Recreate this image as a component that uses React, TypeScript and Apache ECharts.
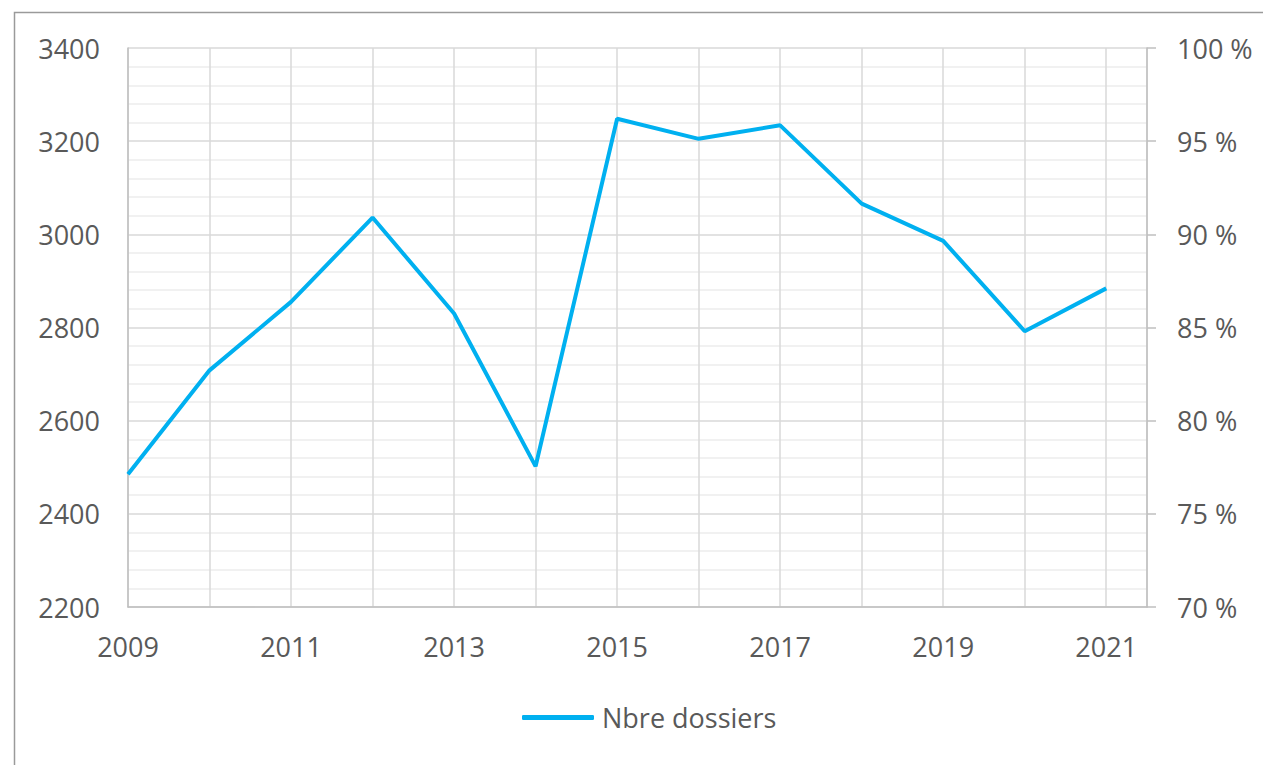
import React, { useEffect, useRef } from "react";
import * as echarts from "echarts";

const years = [2009, 2010, 2011, 2012, 2013, 2014, 2015, 2016, 2017, 2018, 2019, 2020, 2021];
const dossiers = [2485, 2708, 2855, 3036, 2830, 2502, 3248, 3205, 3234, 3066, 2986, 2792, 2884];
const seriesName = "Nbre dossiers";
const leftMin = 2200;
const leftMax = 3400;
const leftStep = 200;
const rightMin = 70;
const rightMax = 100;
const rightStep = 5;

const FONT = "'Open Sans', sans-serif";
const TXT = "#595959";
const FS = 27;

export default function App() {
  const ref = useRef<HTMLDivElement>(null);
  useEffect(() => {
    document.body.style.margin = "0";
    const chart = echarts.init(ref.current!, null, { renderer: "svg" });
    chart.setOption({
      animation: false,
      backgroundColor: "#ffffff",
      grid: { left: 128, top: 48, right: 116, bottom: 158, containLabel: false },
      graphic: [
        {
          type: "rect",
          left: 12,
          top: 10,
          shape: { x: 0, y: 0, width: 1270, height: 800 },
          style: { fill: "none", stroke: "#9a9a9a", lineWidth: 1.5 },
          silent: true,
        },
      ],
      legend: {
        left: 522,
        top: 704,
        padding: 0,
        icon: "roundRect",
        itemWidth: 72,
        itemHeight: 5,
        itemGap: 10,
        textStyle: { fontFamily: FONT, fontSize: FS, color: TXT, padding: [0, 0, 0, 3] },
        data: [seriesName],
      },
      xAxis: {
        type: "value",
        min: years[0],
        max: years[years.length - 1] + 0.5,
        interval: 1,
        axisLine: { show: true, lineStyle: { color: "#bfbfbf", width: 1.5 } },
        axisTick: { show: false },
        axisLabel: {
          margin: 26,
          fontFamily: FONT,
          fontSize: FS,
          color: TXT,
          showMaxLabel: false,
          formatter: (v: number) => (Number.isInteger(v) && v % 2 === 1 ? String(v) : ""),
        },
        splitLine: { show: true, lineStyle: { color: "#d9d9d9", width: 1.5 } },
      },
      yAxis: [
        {
          type: "value",
          min: leftMin,
          max: leftMax,
          interval: leftStep,
          axisLine: { show: true, lineStyle: { color: "#bfbfbf", width: 1.5 } },
          axisTick: { show: false },
          axisLabel: {
            margin: 28,
            fontFamily: FONT,
            fontSize: FS,
            color: TXT,
            formatter: (v: number) => String(v),
          },
          splitLine: { show: true, lineStyle: { color: "#d9d9d9", width: 1.5 } },
          minorTick: { show: false, splitNumber: 5 },
          minorSplitLine: { show: true, lineStyle: { color: "#ececec", width: 1.5 } },
        },
        {
          type: "value",
          position: "right",
          min: rightMin,
          max: rightMax,
          interval: rightStep,
          axisLine: { show: true, lineStyle: { color: "#bfbfbf", width: 1.5 } },
          axisTick: { show: true, length: 9, lineStyle: { color: "#bfbfbf", width: 1.5 } },
          axisLabel: {
            margin: 30,
            fontFamily: FONT,
            fontSize: FS,
            color: TXT,
            formatter: (v: number) => `${v} %`,
          },
          splitLine: { show: false },
        },
      ],
      series: [
        {
          name: seriesName,
          type: "line",
          yAxisIndex: 0,
          data: years.map((y, i) => [y, dossiers[i]]),
          showSymbol: false,
          symbol: "none",
          lineStyle: { color: "#00b0f0", width: 4 },
          itemStyle: { color: "#00b0f0" },
        },
      ],
    });
    return () => chart.dispose();
  }, []);
  return <div ref={ref} style={{ width: 1263, height: 765 }} />;
}
